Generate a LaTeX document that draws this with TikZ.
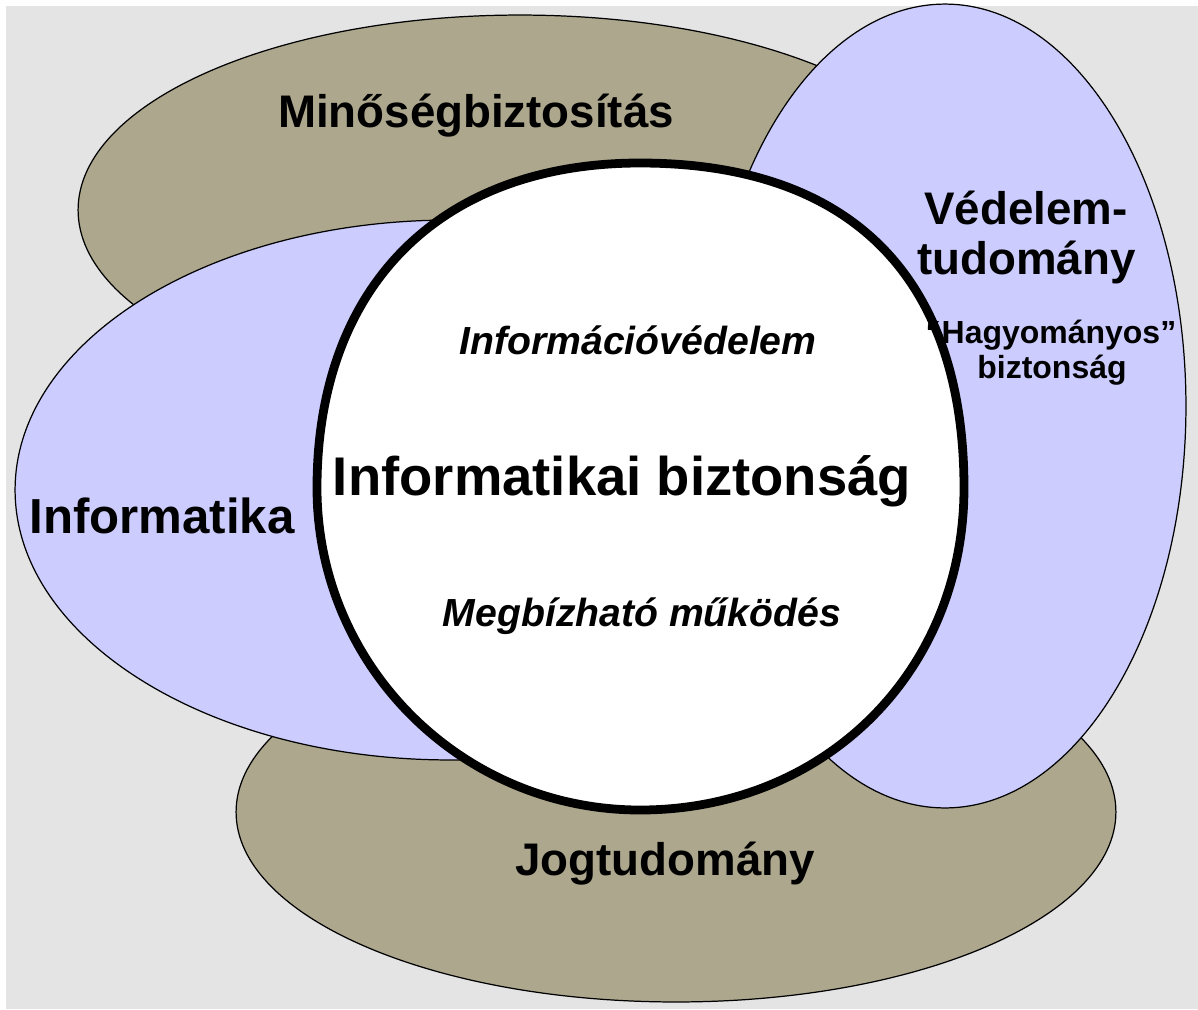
\documentclass[tikz,border=0pt]{standalone}
\usepackage{fontspec}
\setmainfont{Liberation Sans}
\usetikzlibrary{shapes.geometric}
\definecolor{bggrey}{RGB}{228,228,228}
\definecolor{olive}{RGB}{172,167,141}
\definecolor{lav}{RGB}{204,204,255}
\tikzset{
  area/.style={draw=black, line width=0.7pt, ellipse, inner sep=0pt},
  olivearea/.style={area, fill=olive},
  bluearea/.style={area, fill=lav},
  lbl/.style={anchor=base, inner sep=0pt, text=black, font=\bfseries\fontsize{26}{30}\selectfont},
  biglbl/.style={lbl, font=\bfseries\fontsize{31}{34}\selectfont},
  midlbl/.style={lbl, font=\bfseries\fontsize{28}{32}\selectfont},
  itlbl/.style={lbl, font=\bfseries\itshape\fontsize{22.3}{26}\selectfont},
  smlbl/.style={lbl, font=\bfseries\fontsize{18.2}{21}\selectfont},
}
\begin{document}
\begin{tikzpicture}[x=0.02cm, y=-0.02cm]
  % background
  \fill[white] (0,0) rectangle (1198,1009);
  \fill[bggrey] (6,6) rectangle (1198,1009);
  \useasboundingbox (0,0) rectangle (1198,1009);

  % outer areas
  \node[olivearea, minimum width=17.68cm, minimum height=7.8cm] (quality) at (520,210) {};
  \node[olivearea, minimum width=17.6cm, minimum height=7.6cm] (law) at (676,812) {};
  \node[bluearea, minimum width=17.4cm, minimum height=10.8cm] (it) at (450,490) {};
  \node[bluearea, minimum width=9.64cm, minimum height=16.08cm] (defence) at (945,406) {};

  % central circle (slightly squarish at the top, as drawn in the original)
  \draw[line width=5pt, fill=white]
    (964,488) .. controls (964,276.75) and (850.6,163) .. (640,163)
              .. controls (439.7,163) and (317,286.5) .. (317,488)
              .. controls (317,665.7) and (461.7,810) .. (640,810)
              .. controls (824.7,810) and (964,671.5) .. cycle;

  % labels
  \node[lbl] (tq) at (476,127) {Minőségbiztosítás};
  \node[lbl, anchor=base west] (td1) at (924,224) {Védelem-};
  \node[lbl, anchor=base west] (td2) at (917,274) {tudomány};
  \node[smlbl] (th1) at (1051,343) {“Hagyományos”};
  \node[smlbl] (th2) at (1052,378) {biztonság};
  \node[itlbl] (tiv) at (638,354) {Információvédelem};
  \node[biglbl] (tib) at (622,495) {Informatikai biztonság};
  \node[midlbl] (tinf) at (162,533) {Informatika};
  \node[itlbl] (tmm) at (642,626) {Megbízható működés};
  \node[lbl] (tj) at (665,875) {Jogtudomány};
\end{tikzpicture}
\end{document}
